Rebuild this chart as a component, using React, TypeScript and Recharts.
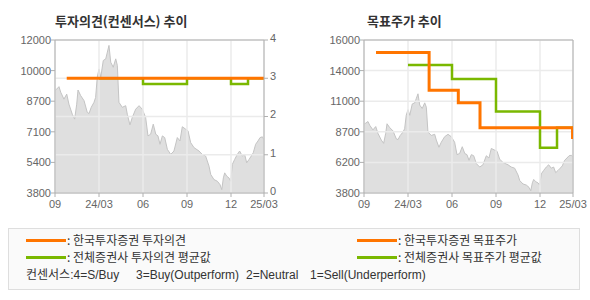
import { ComposedChart, Area, Line, XAxis, YAxis, CartesianGrid, ReferenceLine } from 'recharts';

// x축: 개월 (0 = 시작)
const monthTicks = [0, 3, 6, 9, 12, 14.25];
const monthLabels = ['09', '24/03', '06', '09', '12', '25/03'];

// 주가 (회색 영역)
const priceMonths = [
  0, 0.12, 0.27, 0.39, 0.61, 0.8, 0.95, 1.18, 1.34, 1.48, 1.57, 1.75, 1.98, 2.2, 2.32, 2.47, 2.66, 2.77, 2.88, 3.0,
  3.12, 3.29, 3.46, 3.57, 3.68, 3.8, 3.97, 4.14, 4.25, 4.36, 4.59, 4.82, 4.93, 5.11, 5.27, 5.5, 5.73, 5.95, 6.18, 6.34,
  6.52, 6.7, 6.87, 7.02, 7.16, 7.32, 7.48, 7.66, 7.89, 8.11, 8.34, 8.52, 8.68, 8.91, 9.07, 9.25, 9.48, 9.82, 10.04, 10.27,
  10.5, 10.62, 10.84, 11.07, 11.25, 11.37, 11.48, 11.57, 11.71, 11.86, 11.98, 12.09, 12.25, 12.43, 12.59, 12.77, 12.93, 13.07, 13.23, 13.38,
  13.52, 13.68, 13.84, 13.98, 14.14, 14.25,
];
const priceValues = [
  9290, 9370, 9500, 9200, 8830, 9100, 8560, 8020, 7760, 8560, 9320, 9020, 8750, 8120, 8060, 8390, 8660, 8920, 10000, 10450,
  10000, 10900, 10990, 11350, 11710, 10810, 10540, 10990, 10640, 8660, 8390, 8480, 8020, 7450, 7850, 8290, 8480, 8290, 7850, 6860,
  6950, 7490, 6950, 6860, 6410, 6860, 6770, 6140, 5870, 6050, 6770, 6590, 7350, 7220, 7130, 6500, 6230, 6050, 5870, 5780,
  5240, 4790, 4520, 4430, 4250, 3980, 4610, 4880, 4700, 4610, 4430, 5330, 5600, 5870, 6050, 5780, 5870, 5420, 5600, 5780,
  5960, 6410, 6590, 6770, 6810, 6650,
];

// 투자의견
const houseOpinionMonths = [0.8, 14.25];
const houseOpinion = [3, 3];
const avgOpinionMonths = [3, 6, 9, 12, 13.16, 14.25];
const avgOpinion = [3, 2.85, 3, 2.85, 3, 3];

// 목표주가
const houseTargetMonths = [0.82, 4.44, 6.43, 7.91, 14.22];
const houseTarget = [15000, 12000, 11000, 9000, 8100];
const avgTargetMonths = [3, 6, 9, 12, 13.16, 14.25];
const avgTarget = [14000, 12900, 10300, 7400, 9000, 9000];

const opinionLabels = ['0', '1', '2', '3', '4'];
const leftPriceLabels = ['3800', '5400', '7100', '8700', '10000', '12000'];
const rightPriceLabels = ['3800', '6200', '8700', '11000', '14000', '16000'];

const ORANGE = '#ff7500';
const GREEN = '#7ab800';
const AXIS = '#b0b0b0';
const GRID = '#ebebeb';
const tickStyle = { fill: '#666', fontSize: 11, fontFamily: 'Liberation Sans, Arial, sans-serif' };
const korFont = '"Noto Sans CJK KR", sans-serif';
const mixFont = '"Liberation Sans", "Noto Sans CJK KR", sans-serif';

const toRows = (ms: number[], vs: number[]) => ms.map((m, i) => ({ m, v: vs[i] }));
const priceData = toRows(priceMonths, priceValues);

const evenTicks = (lo: number, hi: number, n: number) =>
  Array.from({ length: n }, (_, i) => lo + ((hi - lo) * i) / (n - 1));

const xAxis = (
  <XAxis
    type="number"
    dataKey="m"
    domain={[0, 14.25]}
    ticks={monthTicks}
    interval={0}
    tickFormatter={(_v: number, i: number) => monthLabels[i]}
    height={22}
    tickSize={4}
    tickMargin={3}
    stroke={AXIS}
    tick={tickStyle}
    allowDataOverflow
  />
);

const OpinionChart = () => {
  const pTicks = evenTicks(3800, 12000, 6);
  return (
    <ComposedChart width={300} height={215} margin={{ top: 40, right: 0, bottom: 0, left: 0 }}>
      {xAxis}
      <YAxis
        yAxisId="price"
        domain={[3800, 12000]}
        ticks={pTicks}
        interval={0}
        tickFormatter={(_v: number, i: number) => leftPriceLabels[i]}
        width={55}
        tickSize={4}
        tickMargin={0}
        stroke={AXIS}
        tick={tickStyle}
        allowDataOverflow
      />
      <YAxis
        yAxisId="op"
        orientation="right"
        domain={[0, 4]}
        ticks={[0, 1, 2, 3, 4]}
        interval={0}
        tickFormatter={(_v: number, i: number) => opinionLabels[i]}
        width={36}
        tickSize={4}
        tickMargin={2}
        stroke={AXIS}
        tick={{ ...tickStyle, dy: -2 }}
      />
      <Area
        yAxisId="price"
        data={priceData}
        dataKey="v"
        type="linear"
        fill="#dfdfdf"
        fillOpacity={1}
        stroke="#c4c4c4"
        strokeWidth={1}
        isAnimationActive={false}
      />
      <CartesianGrid yAxisId="op" stroke={GRID} strokeWidth={1.5} zIndex={150} />
      <ReferenceLine yAxisId="price" y={12000} stroke={AXIS} />
      <Line
        yAxisId="op"
        data={toRows(avgOpinionMonths, avgOpinion)}
        dataKey="v"
        type="stepAfter"
        stroke={GREEN}
        strokeWidth={2.5}
        dot={false}
        isAnimationActive={false}
      />
      <Line
        yAxisId="op"
        data={toRows(houseOpinionMonths, houseOpinion)}
        dataKey="v"
        type="stepAfter"
        stroke={ORANGE}
        strokeWidth={3}
        dot={false}
        isAnimationActive={false}
      />
    </ComposedChart>
  );
};

const TargetChart = () => {
  const pTicks = evenTicks(3800, 16000, 6);
  return (
    <ComposedChart width={295} height={215} margin={{ top: 40, right: 17, bottom: 0, left: 0 }}>
      {xAxis}
      <YAxis
        yAxisId="price"
        domain={[3800, 16000]}
        ticks={pTicks}
        interval={0}
        tickFormatter={(_v: number, i: number) => rightPriceLabels[i]}
        width={69}
        tickSize={4}
        tickMargin={0}
        stroke={AXIS}
        tick={tickStyle}
        allowDataOverflow
      />
      <Area
        yAxisId="price"
        data={priceData}
        dataKey="v"
        type="linear"
        fill="#dfdfdf"
        fillOpacity={1}
        stroke="#c4c4c4"
        strokeWidth={1}
        isAnimationActive={false}
      />
      <CartesianGrid yAxisId="price" stroke={GRID} strokeWidth={1.5} zIndex={150} />
      <ReferenceLine yAxisId="price" y={16000} stroke={AXIS} />
      <ReferenceLine yAxisId="price" x={14.25} stroke={AXIS} />
      <Line
        yAxisId="price"
        data={toRows(avgTargetMonths, avgTarget)}
        dataKey="v"
        type="stepAfter"
        stroke={GREEN}
        strokeWidth={2.5}
        dot={false}
        isAnimationActive={false}
      />
      <Line
        yAxisId="price"
        data={toRows(houseTargetMonths, houseTarget)}
        dataKey="v"
        type="stepAfter"
        stroke={ORANGE}
        strokeWidth={3}
        dot={false}
        isAnimationActive={false}
      />
    </ComposedChart>
  );
};

const LegendLine = ({ x, y, color }: { x: number; y: number; color: string }) => (
  <div style={{ position: 'absolute', left: x, top: y - 1.5, width: 40, height: 3, background: color }} />
);

const LegendText = ({ x, y, font, children }: { x: number; y: number; font?: string; children: React.ReactNode }) => (
  <div
    style={{
      position: 'absolute',
      left: x,
      top: y - 9,
      height: 18,
      lineHeight: '18px',
      fontSize: 12,
      fontFamily: font || korFont,
      color: '#333',
      whiteSpace: 'pre',
    }}
  >
    {children}
  </div>
);

export default function App() {
  return (
    <div style={{ position: 'absolute', left: 0, top: 0, width: 590, height: 300, background: '#fff', overflow: 'hidden' }}>
      <div
        style={{
          position: 'absolute',
          left: 55,
          top: 11,
          fontSize: 13,
          fontWeight: 700,
          fontFamily: korFont,
          color: '#333',
          lineHeight: '20px',
        }}
      >
        투자의견(컨센서스) 추이
      </div>
      <div
        style={{
          position: 'absolute',
          left: 367,
          top: 11,
          fontSize: 13,
          fontWeight: 700,
          fontFamily: korFont,
          color: '#333',
          lineHeight: '20px',
        }}
      >
        목표주가 추이
      </div>
      <div style={{ position: 'absolute', left: 0, top: 0 }}>
        <OpinionChart />
      </div>
      <div style={{ position: 'absolute', left: 295, top: 0 }}>
        <TargetChart />
      </div>
      <div
        style={{
          position: 'absolute',
          left: 8,
          top: 228,
          width: 570,
          height: 60,
          border: '1px solid #dedede',
          background: '#fafafa',
        }}
      />
      <LegendLine x={26} y={240} color={ORANGE} />
      <LegendText x={67} y={240}>: 한국투자증권 투자의견</LegendText>
      <LegendLine x={26} y={257} color={GREEN} />
      <LegendText x={67} y={257}>: 전체증권사 투자의견 평균값</LegendText>
      <LegendLine x={357} y={240} color={ORANGE} />
      <LegendText x={398} y={240}>: 한국투자증권 목표주가</LegendText>
      <LegendLine x={357} y={257} color={GREEN} />
      <LegendText x={398} y={257}>: 전체증권사 목표주가 평균값</LegendText>
      <LegendText x={26} y={275} font={mixFont}>컨센서스:4=S/Buy</LegendText>
      <LegendText x={136} y={275} font={mixFont}>3=Buy(Outperform)</LegendText>
      <LegendText x={246} y={275} font={mixFont}>2=Neutral</LegendText>
      <LegendText x={310} y={275} font={mixFont}>1=Sell(Underperform)</LegendText>
    </div>
  );
}
